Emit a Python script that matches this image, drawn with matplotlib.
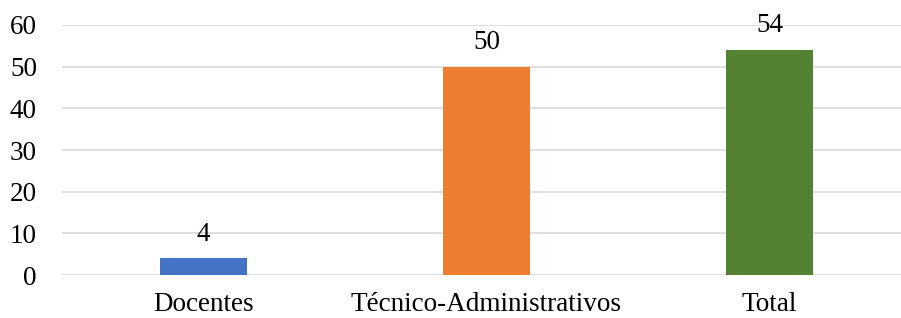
import matplotlib.pyplot as plt

categories = ["Docentes", "Técnico-Administrativos", "Total"]
values = [4, 50, 54]
colors = ["#4472C4", "#ED7D31", "#548235"]
yticks = [0, 10, 20, 30, 40, 50, 60]

plt.rcParams['font.family'] = ['Liberation Serif', 'DejaVu Serif']

fig = plt.figure(figsize=(9.01, 3.18), dpi=100)
ax = fig.add_axes([0.0688, 0.1352, 0.9312, 0.7862])

x = range(len(categories))
bars = ax.bar(x, values, width=0.31, color=colors, zorder=3)

for b, v in zip(bars, values):
    ax.annotate(str(v), (b.get_x() + b.get_width() / 2, v), xytext=(0, 8.5),
                textcoords="offset points", ha="center", va="bottom", fontsize=19.5)

ax.set_xlim(-0.5, 2.465)
ax.set_ylim(0, 60)
ax.set_yticks(yticks)
ax.set_xticks(list(x))
ax.set_xticklabels(categories)
ax.grid(axis="y", color="#D9D9D9", linewidth=1.2, zorder=0)
for s in ax.spines.values():
    s.set_visible(False)
ax.tick_params(axis="both", length=0, labelsize=19.5)
ax.tick_params(axis="y", pad=18)
ax.tick_params(axis="x", pad=12.5)

fig.savefig("out.png", dpi=100)
